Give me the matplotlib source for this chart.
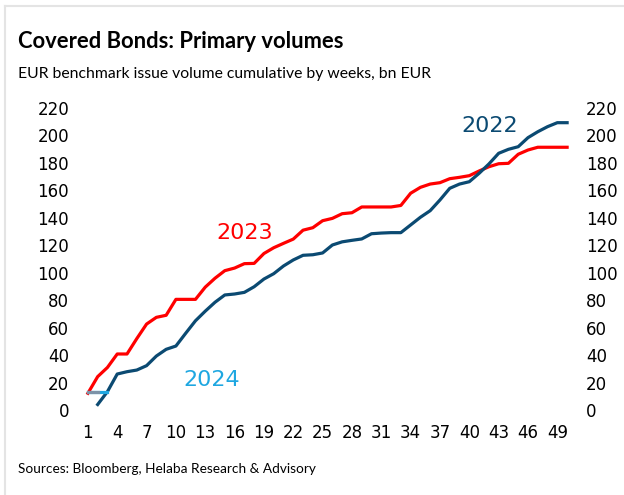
import matplotlib
matplotlib.use("Agg")
import matplotlib.pyplot as plt
from matplotlib.lines import Line2D

# cumulative EUR benchmark volume, bn EUR, by calendar week
weeks_2022 = list(range(2, 51))
vol_2022 = [4, 13.4, 26.2, 27.9, 29.1, 32.3, 39.3, 44.2, 46.6, 55.9,
            65, 72, 78.5, 83.8, 84.5, 85.7, 89.8, 95.4, 99.3, 104.9,
            109.3, 112.7, 113.1, 114.4, 120.2, 122.5, 123.6, 124.6, 128.4, 128.9,
            129.2, 129.2, 134.8, 140.4, 145.2, 153, 161.5, 164.6, 166.3, 172.4,
            179.2, 187, 189.9, 191.8, 198.4, 202.7, 206.4, 209.3, 209.3]

weeks_2023 = list(range(1, 51))
vol_2023 = [12.2, 24.3, 31, 40.8, 40.8, 52, 62.6, 67.5, 69, 80.6,
            80.6, 80.6, 89.5, 96, 101.5, 103.4, 106.6, 106.8, 114, 118.2,
            121.4, 124.5, 131, 132.8, 137.9, 139.6, 143, 143.7, 147.9, 147.9,
            147.9, 147.9, 149, 157.9, 162.2, 164.6, 165.6, 168.5, 169.5, 170.7,
            174.1, 177.2, 179.4, 179.7, 186.3, 189.4, 191.4, 191.4, 191.4, 191.4]

weeks_2024 = [1, 2, 3]
vol_2024 = [13.1, 13.1, 13.1]

x_ticks = list(range(1, 50, 3))
y_ticks = list(range(0, 221, 20))

RED = "#ff0000"
DARK = "#0b4a72"
LIGHT = "#1ea7e1"

fig = plt.figure(figsize=(6.24, 4.95), dpi=100)
ax = fig.add_axes([83 / 624, 85 / 495, 489 / 624, 302 / 495])

ax.plot(weeks_2023, vol_2023, color=RED, lw=2.3, solid_joinstyle="round")
ax.plot(weeks_2022, vol_2022, color=DARK, lw=2.3, solid_joinstyle="round")
ax.plot(weeks_2024, vol_2024, color=LIGHT, lw=2.3)
ax.plot(weeks_2024[:2], vol_2024[:2], color="#7d93a8", lw=2.3)

ax.set_xlim(0.5, 50.5)
ax.set_ylim(0, 220)
ax.set_xticks(x_ticks)
ax.set_yticks(y_ticks)
ax.tick_params(axis="x", length=0, pad=10, labelsize=12)
ax.tick_params(axis="y", length=0, pad=10, labelsize=12,
               labelright=True, right=True)
for s in ax.spines.values():
    s.set_visible(False)

ax.text(42.1, 207, "2022", color=DARK, fontsize=16, ha="center", va="center")
ax.text(17.0, 129, "2023", color=RED, fontsize=16, ha="center", va="center")
ax.text(13.7, 21.5, "2024", color=LIGHT, fontsize=16, ha="center", va="center")

narrow = ["Lato", "DejaVu Sans"]
fig.text(18 / 624, 1 - 41 / 495, "Covered Bonds: Primary volumes",
         family=narrow, fontweight="bold", fontsize=15.8, va="center")
fig.text(18 / 624, 1 - 74 / 495,
         "EUR benchmark issue volume cumulative by weeks, bn EUR",
         family=narrow, fontsize=11.3, va="center")
fig.text(18 / 624, 1 - 469 / 495, "Sources: Bloomberg, Helaba Research & Advisory",
         family=narrow, fontsize=9.8, va="center")

# light frame along top and left edge
fig.add_artist(Line2D([4.5 / 624, 1], [1 - 5.5 / 495, 1 - 5.5 / 495],
                      transform=fig.transFigure, color="#e4e4e4", lw=1.5))
fig.add_artist(Line2D([4.5 / 624, 4.5 / 624], [0, 1 - 5.5 / 495],
                      transform=fig.transFigure, color="#e4e4e4", lw=1.5))

fig.savefig("out.png", dpi=100)
